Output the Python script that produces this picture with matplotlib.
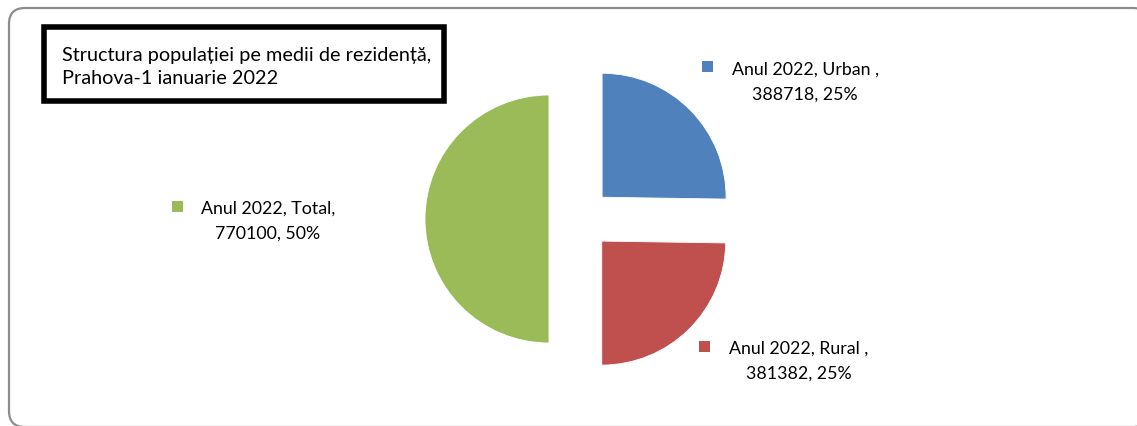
import matplotlib
matplotlib.use("Agg")
import matplotlib.pyplot as plt
from matplotlib.patches import FancyBboxPatch, Rectangle

categories = ["Urban", "Rural", "Total"]
values = [388718, 381382, 770100]
percents = ["25%", "25%", "50%"]
colors = ["#4F81BD", "#C0504D", "#9BBB59"]
title_lines = "Structura populației pe medii de rezidență,\nPrahova-1 ianuarie 2022"
label_texts = ["Anul 2022, Urban ,\n388718, 25%",
               "Anul 2022, Rural ,\n381382, 25%",
               "Anul 2022, Total,\n770100, 50%"]

W, H = 1137, 427
fig = plt.figure(figsize=(W / 100, H / 100), dpi=100)
plt.rcParams['font.family'] = ['Lato', 'DejaVu Sans']

ov = fig.add_axes([0, 0, 1, 1])
ov.set_xlim(0, W)
ov.set_ylim(H, 0)
ov.axis('off')

# outer rounded frame
frame = FancyBboxPatch((9, 9), 1140, 419, boxstyle="round,pad=0,rounding_size=16",
                       fc='white', ec='#8C8C8C', lw=1.6, zorder=0)
ov.add_patch(frame)

# title box
ov.add_patch(Rectangle((44, 28), 400, 74, fc='white', ec='black', lw=4, zorder=2))
ov.text(62, 67, title_lines, ha='left', va='center', fontsize=14.3, linespacing=1.5,
        color='black', zorder=3)

# pie
cx, cy, r = 580, 220, 124
half = 1.6 * r
pa = fig.add_axes([(cx - half) / W, (H - cy - half) / H, 2 * half / W, 2 * half / H])
pa.pie(values, colors=colors, startangle=90, counterclock=False, radius=1,
       explode=[0.25, 0.25, 0.25], wedgeprops=dict(edgecolor='white', linewidth=0.6))
pa.set_xlim(-1.6, 1.6)
pa.set_ylim(-1.6, 1.6)
pa.axis('off')

# data labels with legend keys
label_pos = [(805, 82), (799, 361), (268, 221)]
key_pos = [(702, 62), (699, 342), (172, 202)]
for (tx, ty), (kx, ky), txt, col in zip(label_pos, key_pos, label_texts, colors):
    ov.text(tx, ty, txt, ha='center', va='center', multialignment='center',
            fontsize=12.8, linespacing=1.7, color='black')
    ov.add_patch(Rectangle((kx, ky), 11, 11, fc=col, ec='none'))

fig.savefig("out.png", dpi=100)
